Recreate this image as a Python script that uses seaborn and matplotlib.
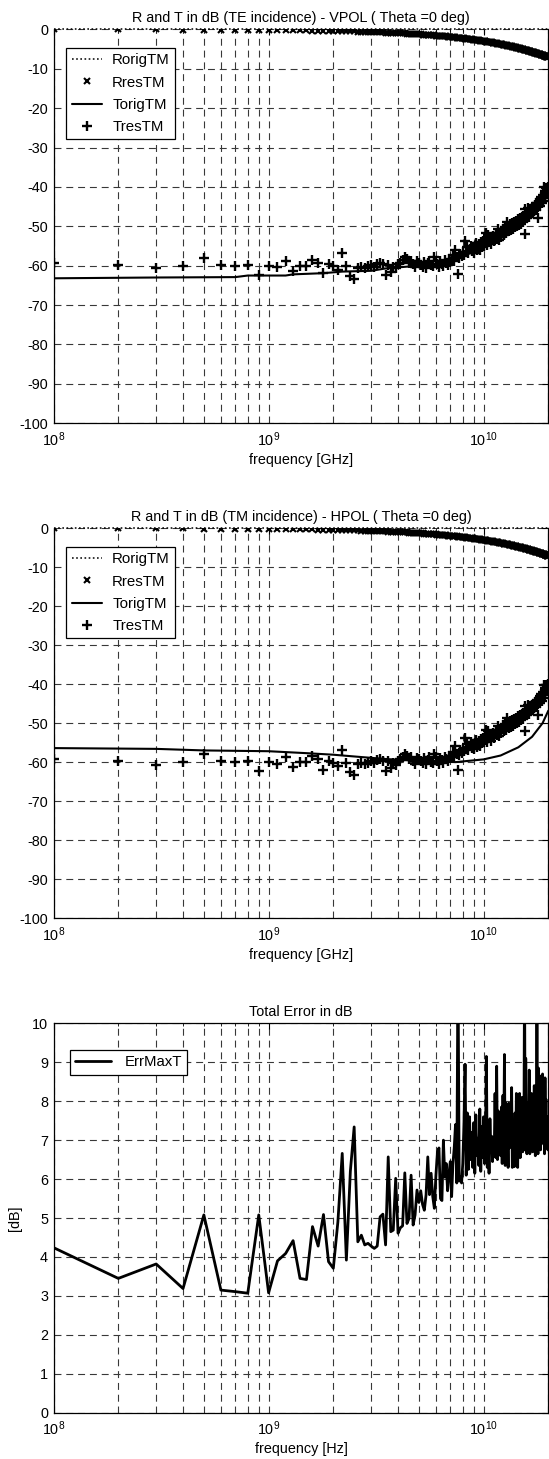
import numpy as np
import pandas as pd
import matplotlib
matplotlib.use("Agg")
import matplotlib.pyplot as plt
import seaborn as sns
from matplotlib.ticker import LogLocator, NullFormatter, FixedLocator

# ---------------------------------------------------------------------------
# Frequency sweep: 0.1 GHz to 20 GHz in 0.1 GHz steps (200 samples)
# ---------------------------------------------------------------------------
F_START_HZ = 1e8
F_STEP_HZ = 1e8
N_SAMPLES = 200
freq_hz = F_START_HZ + F_STEP_HZ * np.arange(N_SAMPLES)

# Reflection of the original structure (flat 0 dB over the band)
r_orig_freq_ghz = [0.1, 1.0, 10.0, 20.0]
r_orig_db = [0.0, 0.0, 0.0, 0.0]

# Reflection of the resulting structure (dB), one value per sweep sample
r_res_db = [
    -0.01, -0.02, -0.04, -0.05, -0.07, -0.09, -0.11, -0.13, -0.15, -0.17,
    -0.19, -0.21, -0.23, -0.26, -0.28, -0.30, -0.33, -0.35, -0.38, -0.40,
    -0.43, -0.45, -0.48, -0.51, -0.53, -0.56, -0.58, -0.61, -0.64, -0.66,
    -0.69, -0.72, -0.75, -0.78, -0.81, -0.84, -0.86, -0.89, -0.92, -0.95,
    -0.98, -1.01, -1.04, -1.07, -1.10, -1.13, -1.17, -1.20, -1.23, -1.26,
    -1.29, -1.32, -1.35, -1.39, -1.42, -1.45, -1.48, -1.51, -1.55, -1.58,
    -1.61, -1.65, -1.68, -1.71, -1.75, -1.78, -1.81, -1.85, -1.88, -1.92,
    -1.95, -1.99, -2.02, -2.05, -2.09, -2.12, -2.16, -2.19, -2.23, -2.26,
    -2.30, -2.33, -2.37, -2.41, -2.44, -2.48, -2.51, -2.55, -2.59, -2.62,
    -2.66, -2.70, -2.73, -2.77, -2.81, -2.84, -2.88, -2.92, -2.95, -2.99,
    -3.03, -3.07, -3.10, -3.14, -3.18, -3.22, -3.25, -3.29, -3.33, -3.37,
    -3.41, -3.45, -3.48, -3.52, -3.56, -3.60, -3.64, -3.68, -3.72, -3.76,
    -3.80, -3.83, -3.87, -3.91, -3.95, -3.99, -4.03, -4.07, -4.11, -4.15,
    -4.19, -4.23, -4.27, -4.31, -4.35, -4.39, -4.43, -4.47, -4.51, -4.56,
    -4.60, -4.64, -4.68, -4.72, -4.76, -4.80, -4.84, -4.88, -4.92, -4.96,
    -5.01, -5.05, -5.09, -5.13, -5.17, -5.21, -5.26, -5.30, -5.34, -5.38,
    -5.42, -5.47, -5.51, -5.55, -5.59, -5.64, -5.68, -5.72, -5.76, -5.81,
    -5.85, -5.89, -5.93, -5.98, -6.02, -6.06, -6.11, -6.15, -6.19, -6.24,
    -6.28, -6.32, -6.37, -6.41, -6.45, -6.50, -6.54, -6.58, -6.63, -6.67,
    -6.71, -6.76, -6.80, -6.85, -6.89, -6.94, -6.98, -7.02, -7.07, -7.11,
]

# Transmission of the resulting structure (dB), one value per sweep sample
t_res_db = [
    -59.2, -59.8, -60.7, -60.0, -58.0, -59.8, -60.0, -59.8, -62.3, -60.0,
    -60.4, -58.7, -61.3, -60.0, -60.0, -58.5, -59.2, -61.9, -59.6, -60.1,
    -61.0, -56.9, -60.2, -62.6, -63.4, -60.5, -60.3, -60.6, -60.2, -59.8,
    -60.3, -59.5, -59.2, -59.6, -62.3, -59.8, -61.6, -60.3, -60.7, -59.6,
    -59.2, -58.6, -57.9, -58.4, -59.3, -58.8, -59.6, -60.4, -58.9, -59.3,
    -59.7, -60.3, -59.0, -60.6, -59.4, -58.7, -59.9, -60.2, -57.9, -58.8,
    -59.6, -60.4, -58.9, -59.5, -60.1, -58.6, -59.2, -59.8, -58.4, -59.0,
    -58.5, -57.3, -58.8, -55.9, -57.8, -62.0, -58.1, -57.0, -57.6, -56.6,
    -57.2, -53.7, -56.4, -55.3, -56.9, -55.8, -54.9, -56.3, -55.5, -56.7,
    -55.0, -54.3, -56.1, -55.4, -54.6, -55.9, -54.1, -55.2, -53.8, -54.9,
    -54.3, -53.6, -51.8, -54.8, -52.1, -53.9, -53.2, -54.5, -52.8, -53.5,
    -52.4, -53.8, -52.9, -51.7, -53.1, -52.2, -50.8, -53.4, -52.0, -51.5,
    -52.6, -51.2, -50.6, -52.1, -51.4, -50.2, -51.8, -48.8, -50.7, -49.9,
    -51.3, -50.1, -49.5, -51.0, -50.4, -49.2, -50.8, -49.7, -48.9, -50.2,
    -49.4, -48.6, -50.0, -49.1, -48.2, -49.6, -48.8, -47.9, -49.3, -48.5,
    -47.7, -48.9, -47.3, -48.1, -52.0, -45.6, -47.5, -46.8, -48.0, -47.0,
    -45.4, -46.5, -47.6, -46.1, -45.7, -47.0, -46.3, -45.3, -46.6, -45.9,
    -45.0, -46.2, -44.6, -45.5, -44.2, -45.8, -44.9, -44.0, -48.0, -44.5,
    -43.8, -44.8, -43.1, -43.9, -42.6, -44.2, -42.9, -43.5, -42.1, -40.1,
    -42.7, -41.5, -42.4, -41.0, -40.3, -41.8, -40.6, -41.2, -39.9, -40.7,
]

# Transmission of the original structure, TE (VPOL) incidence
t_orig_te_freq_ghz = [0.1, 0.3, 0.7, 0.8, 1.2, 1.3, 1.8, 2.2, 3.0, 3.5,
                      4.5, 6.0, 7.4, 8.5, 10.0, 12.0, 15.0, 17.0, 19.0, 20.0]
t_orig_te_db = [-63.2, -63.0, -62.9, -62.5, -62.5, -62.2, -61.9, -61.5, -61.3, -60.7,
                -60.2, -59.7, -58.5, -57.0, -55.3, -53.0, -49.8, -46.9, -43.5, -41.7]

# Transmission of the original structure, TM (HPOL) incidence
t_orig_tm_freq_ghz = [0.1, 0.3, 0.5, 1.0, 1.5, 2.0, 2.7, 3.5, 5.0, 7.4,
                      10.0, 12.0, 14.5, 16.8, 18.8, 20.0]
t_orig_tm_db = [-56.4, -56.6, -57.0, -57.2, -57.7, -58.1, -58.7, -59.2, -59.7, -60.0,
                -59.3, -58.3, -56.2, -53.5, -50.0, -46.8]

# Maximum transmission error (dB), one value per sweep sample
err_max_t_db = [
    4.24, 3.45, 3.82, 3.19, 5.08, 3.15, 3.11, 3.07, 5.08, 3.08,
    3.90, 4.09, 4.42, 3.45, 3.42, 4.78, 4.28, 5.09, 3.88, 3.71,
    4.90, 6.66, 3.92, 6.20, 7.34, 4.39, 4.56, 4.31, 4.35, 4.28,
    4.22, 4.28, 5.03, 5.10, 4.31, 6.57, 4.65, 4.69, 6.02, 4.61,
    4.75, 4.80, 6.16, 4.86, 4.99, 6.10, 4.82, 5.08, 5.72, 5.40,
    5.70, 5.35, 5.20, 5.60, 6.57, 5.60, 6.15, 5.55, 5.25, 6.10,
    6.70, 6.80, 5.50, 5.45, 7.00, 6.05, 6.40, 5.70, 6.15, 6.45,
    5.55, 6.40, 6.80, 7.40, 5.90, 11.5, 5.95, 6.05, 5.90, 6.40,
    7.40, 8.95, 6.10, 7.70, 6.25, 7.60, 6.50, 7.20, 6.30, 7.45,
    6.15, 7.65, 6.60, 7.05, 6.35, 7.80, 6.20, 7.35, 6.55, 7.60,
    6.40, 6.90, 9.15, 6.30, 7.35, 6.15, 7.55, 6.70, 7.10, 6.45,
    7.00, 6.60, 8.20, 6.55, 8.90, 6.50, 7.75, 6.80, 7.30, 6.60,
    7.85, 6.40, 8.15, 6.90, 9.20, 6.35, 7.95, 6.85, 7.40, 6.30,
    7.95, 6.80, 7.60, 6.85, 8.35, 6.30, 7.25, 7.00, 6.32, 7.70,
    6.60, 8.20, 7.10, 6.30, 7.60, 6.90, 8.20, 6.55, 7.30, 6.95,
    8.10, 6.70, 7.45, 7.20, 11.5, 6.75, 9.10, 7.40, 6.65, 7.95,
    7.10, 6.95, 8.80, 6.65, 7.50, 6.90, 8.20, 7.30, 6.70, 7.75,
    6.85, 8.40, 7.05, 6.60, 8.20, 7.10, 11.5, 7.20, 6.65, 8.85,
    7.30, 6.90, 7.70, 6.75, 8.65, 7.20, 6.95, 8.70, 7.40, 6.90,
    7.75, 6.65, 8.60, 7.20, 8.05, 6.90, 7.60, 7.10, 6.75, 7.00,
]

titles = [
    "R and T in dB (TE incidence) - VPOL ( Theta =0 deg)",
    "R and T in dB (TM incidence) - HPOL ( Theta =0 deg)",
    "Total Error in dB",
]
legend_labels = ["RorigTM", "RresTM", "TorigTM", "TresTM"]
err_label = "ErrMaxT"
db_ticks = [0, -10, -20, -30, -40, -50, -60, -70, -80, -90, -100]
err_ticks = list(range(0, 11))

# ---------------------------------------------------------------------------
sns.set_theme(style="white")
FS = 10.4
plt.rcParams.update({
    "font.family": ["Liberation Sans", "DejaVu Sans"],
    "font.size": FS,
    "axes.unicode_minus": False,
    "lines.scale_dashes": False,
    "axes.edgecolor": "black",
    "axes.linewidth": 0.9,
    "xtick.color": "black",
    "ytick.color": "black",
    "text.color": "black",
    "axes.labelcolor": "black",
})

GRID_STYLE = dict(color="0.22", linestyle=(0, (5, 3.5)), linewidth=0.8)


def style_axes(ax, ylim, yticks, hide_top=False):
    ax.set_xscale("log")
    ax.set_xlim(freq_hz[0], freq_hz[-1])
    ax.set_ylim(*ylim)
    ax.yaxis.set_major_locator(FixedLocator(yticks))
    ax.xaxis.set_major_locator(LogLocator(base=10, numticks=12))
    ax.xaxis.set_minor_locator(LogLocator(base=10, subs=np.arange(2, 10), numticks=30))
    ax.xaxis.set_minor_formatter(NullFormatter())
    ax.grid(True, which="major", axis="both", **GRID_STYLE)
    ax.grid(True, which="minor", axis="x", **GRID_STYLE)
    ax.tick_params(which="both", direction="in", top=True, right=True,
                   labelsize=FS, color="black")
    ax.tick_params(which="major", length=4, width=0.8, pad=4)
    ax.tick_params(which="minor", length=2.5, width=0.6)
    ax.tick_params(axis="x", which="major", pad=5)
    for sp in ax.spines.values():
        sp.set_color("black")
        sp.set_linewidth(0.9)
    if hide_top:
        ax.spines["top"].set_visible(False)


fig = plt.figure(figsize=(5.49, 14.59), dpi=100)
ax_left, ax_width = 0.0976, 0.9012
ax_te = fig.add_axes([ax_left, 0.7099, ax_width, 0.2700])
ax_tm = fig.add_axes([ax_left, 0.3708, ax_width, 0.2671])
ax_err = fig.add_axes([ax_left, 0.0317, ax_width, 0.2669])

df_r_orig = pd.DataFrame({"freq": np.array(r_orig_freq_ghz) * 1e9, "db": r_orig_db})
df_res = pd.DataFrame({"freq": freq_hz, "r": r_res_db, "t": t_res_db, "err": err_max_t_db})
df_t_te = pd.DataFrame({"freq": np.array(t_orig_te_freq_ghz) * 1e9, "db": t_orig_te_db})
df_t_tm = pd.DataFrame({"freq": np.array(t_orig_tm_freq_ghz) * 1e9, "db": t_orig_tm_db})

panels = [(ax_te, df_t_te, titles[0]), (ax_tm, df_t_tm, titles[1])]
for ax, df_t_orig, title in panels:
    style_axes(ax, (-100, 0), db_ticks, hide_top=True)
    sns.lineplot(data=df_r_orig, x="freq", y="db", ax=ax, estimator=None, sort=False,
                 color="black", linestyle=(0, (1.2, 1.8)), linewidth=1.1,
                 label=legend_labels[0], clip_on=False, zorder=5)
    sns.lineplot(data=df_res, x="freq", y="r", ax=ax, estimator=None, sort=False,
                 color="black", linestyle="", marker="x", markersize=4.0,
                 markeredgewidth=1.5, markeredgecolor="black",
                 label=legend_labels[1], zorder=4)
    sns.lineplot(data=df_t_orig, x="freq", y="db", ax=ax, estimator=None, sort=False,
                 color="black", linestyle="-", linewidth=1.5,
                 label=legend_labels[2], zorder=3)
    sns.lineplot(data=df_res, x="freq", y="t", ax=ax, estimator=None, sort=False,
                 color="black", linestyle="", marker="+", markersize=7,
                 markeredgewidth=1.7, markeredgecolor="black",
                 label=legend_labels[3], zorder=4)
    ax.set_title(title, fontsize=FS, pad=5)
    ax.set_xlabel("frequency [GHz]", fontsize=FS, labelpad=3)
    ax.set_ylabel("")
    leg = ax.legend(loc="upper left", bbox_to_anchor=(0.026, 0.952), borderaxespad=0,
                    fontsize=FS + 0.4, handlelength=2.0, handletextpad=0.7,
                    labelspacing=0.55, borderpad=0.35, frameon=True, fancybox=False,
                    framealpha=1, edgecolor="black")
    leg.get_frame().set_linewidth(0.9)

# Error panel
style_axes(ax_err, (0, 10), err_ticks)
sns.lineplot(data=df_res, x="freq", y="err", ax=ax_err, estimator=None, sort=False,
             color="black", linewidth=2.0, label=err_label)
ax_err.set_title(titles[2], fontsize=FS, pad=5)
ax_err.set_xlabel("frequency [Hz]", fontsize=FS, labelpad=3)
ax_err.set_ylabel("[dB]", fontsize=FS, labelpad=7)
leg = ax_err.legend(loc="upper left", bbox_to_anchor=(0.033, 0.931), borderaxespad=0,
                    fontsize=FS + 0.4, handlelength=2.4, handletextpad=0.9,
                    borderpad=0.35, frameon=True, fancybox=False, framealpha=1,
                    edgecolor="black")
leg.get_frame().set_linewidth(0.9)

fig.savefig("out.png", dpi=100)
